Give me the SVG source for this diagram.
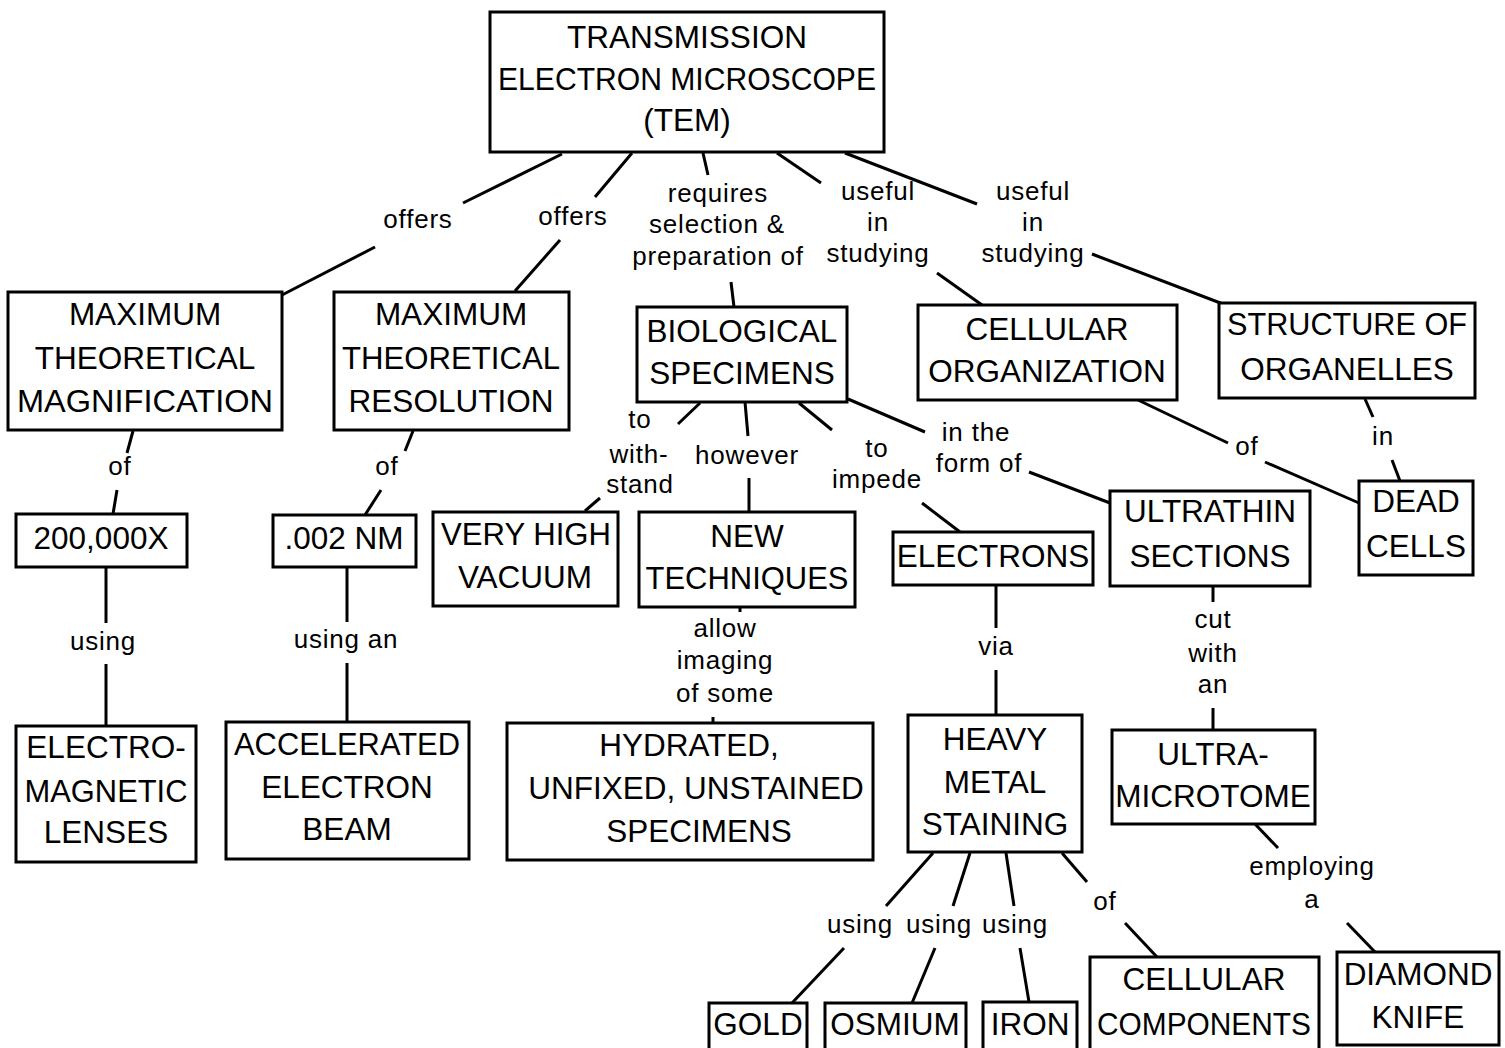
<svg xmlns="http://www.w3.org/2000/svg" width="1505" height="1048" viewBox="0 0 1505 1048">
  <style>
    .box { fill: #fff; stroke: #000; stroke-width: 3; }
    .nt { font-family: "Liberation Sans", Arial, sans-serif; font-size: 31.5px; text-anchor: middle; fill: #000; }
    .lt { font-family: "Liberation Sans", Arial, sans-serif; font-size: 26px; letter-spacing: 0.8px; text-anchor: middle; fill: #000; }
    #connectors line { stroke: #000; stroke-width: 3; stroke-linecap: butt; }
  </style>
  <rect width="1505" height="1048" fill="#fff"/>

  <!-- connectors: each link is two segments broken around its label -->
  <g id="connectors">
    <line x1="562" y1="154" x2="463" y2="203"/><line x1="375" y1="247" x2="282" y2="295"/>
    <line x1="632" y1="153" x2="595" y2="197"/><line x1="560" y1="240" x2="515" y2="291"/>
    <line x1="703" y1="153" x2="708" y2="175"/><line x1="731" y1="282" x2="734" y2="307"/>
    <line x1="777" y1="153" x2="821" y2="183"/><line x1="937" y1="273" x2="982" y2="305"/>
    <line x1="845" y1="153" x2="977" y2="204"/><line x1="1092" y1="254" x2="1223" y2="304"/>
    <line x1="133" y1="431" x2="127" y2="453"/><line x1="117" y1="490" x2="113" y2="514"/>
    <line x1="413" y1="431" x2="405" y2="451"/><line x1="381" y1="490" x2="365" y2="515"/>
    <line x1="106" y1="567" x2="106" y2="623"/><line x1="106" y1="664" x2="106" y2="726"/>
    <line x1="347" y1="567" x2="347" y2="622"/><line x1="347" y1="663" x2="347" y2="722"/>
    <line x1="700" y1="403" x2="678" y2="424"/><line x1="600" y1="498" x2="585" y2="511"/>
    <line x1="745" y1="402" x2="748" y2="436"/><line x1="749" y1="478" x2="749" y2="512"/>
    <line x1="799" y1="403" x2="832" y2="430"/><line x1="922" y1="503" x2="960" y2="532"/>
    <line x1="848" y1="399" x2="925" y2="432"/><line x1="1029" y1="472" x2="1110" y2="503"/>
    <line x1="1138" y1="400" x2="1228" y2="443"/><line x1="1265" y1="462" x2="1359" y2="503"/>
    <line x1="1365" y1="399" x2="1373" y2="417"/><line x1="1392" y1="460" x2="1400" y2="481"/>
    <line x1="740" y1="607" x2="740" y2="612"/><line x1="713" y1="717" x2="713" y2="723"/>
    <line x1="996" y1="585" x2="996" y2="628"/><line x1="996" y1="670" x2="996" y2="715"/>
    <line x1="1213" y1="586" x2="1213" y2="602"/><line x1="1213" y1="708" x2="1213" y2="730"/>
    <line x1="1255" y1="824" x2="1278" y2="848"/><line x1="1347" y1="923" x2="1375" y2="952"/>
    <line x1="933" y1="853" x2="886" y2="906"/><line x1="844" y1="948" x2="792" y2="1003"/>
    <line x1="970" y1="853" x2="953" y2="906"/><line x1="935" y1="948" x2="912" y2="1003"/>
    <line x1="1006" y1="853" x2="1014" y2="906"/><line x1="1020" y1="948" x2="1029" y2="1002"/>
    <line x1="1062" y1="853" x2="1087" y2="882"/><line x1="1125" y1="923" x2="1157" y2="957"/>
  </g>

  <!-- link labels -->
  <g id="labels" class="lt">
    <text x="418" y="228">offers</text>
    <text x="573" y="225">offers</text>
    <text x="718" y="202">requires</text>
    <text x="717" y="233">selection &amp;</text>
    <text x="718" y="265">preparation of</text>
    <text x="878" y="200">useful</text>
    <text x="878" y="231">in</text>
    <text x="878" y="262">studying</text>
    <text x="1033" y="200">useful</text>
    <text x="1033" y="231">in</text>
    <text x="1033" y="262">studying</text>
    <text x="120" y="475">of</text>
    <text x="387" y="475">of</text>
    <text x="103" y="650">using</text>
    <text x="346" y="648">using an</text>
    <text x="640" y="428">to</text>
    <text x="639" y="463">with-</text>
    <text x="640" y="493">stand</text>
    <text x="747" y="464">however</text>
    <text x="877" y="457">to</text>
    <text x="877" y="488">impede</text>
    <text x="976" y="441">in the</text>
    <text x="979" y="472">form of</text>
    <text x="1247" y="455">of</text>
    <text x="1383" y="445">in</text>
    <text x="725" y="637">allow</text>
    <text x="725" y="669">imaging</text>
    <text x="725" y="702">of some</text>
    <text x="996" y="655">via</text>
    <text x="1213" y="628">cut</text>
    <text x="1213" y="662">with</text>
    <text x="1213" y="693">an</text>
    <text x="1312" y="875">employing</text>
    <text x="1312" y="908">a</text>
    <text x="860" y="933">using</text>
    <text x="939" y="933">using</text>
    <text x="1015" y="933">using</text>
    <text x="1105" y="910">of</text>
  </g>

  <!-- concept nodes -->
  <g id="n-tem"><rect class="box" x="490" y="12" width="394" height="140"/>
    <text class="nt" x="687" y="48">TRANSMISSION</text>
    <text class="nt" x="687" y="90" textLength="378" lengthAdjust="spacingAndGlyphs">ELECTRON MICROSCOPE</text>
    <text class="nt" x="687" y="131">(TEM)</text></g>
  <g id="n-mag"><rect class="box" x="8" y="292" width="274" height="138"/>
    <text class="nt" x="145" y="325">MAXIMUM</text>
    <text class="nt" x="145" y="369">THEORETICAL</text>
    <text class="nt" x="145" y="412" textLength="256" lengthAdjust="spacingAndGlyphs">MAGNIFICATION</text></g>
  <g id="n-res"><rect class="box" x="334" y="292" width="235" height="138"/>
    <text class="nt" x="451" y="325">MAXIMUM</text>
    <text class="nt" x="451" y="369" textLength="218" lengthAdjust="spacingAndGlyphs">THEORETICAL</text>
    <text class="nt" x="451" y="412">RESOLUTION</text></g>
  <g id="n-bio"><rect class="box" x="637" y="307" width="210" height="95"/>
    <text class="nt" x="742" y="342">BIOLOGICAL</text>
    <text class="nt" x="742" y="384">SPECIMENS</text></g>
  <g id="n-cellorg"><rect class="box" x="918" y="305" width="259" height="95"/>
    <text class="nt" x="1047" y="340">CELLULAR</text>
    <text class="nt" x="1047" y="382">ORGANIZATION</text></g>
  <g id="n-struct"><rect class="box" x="1219" y="303" width="256" height="95"/>
    <text class="nt" x="1347" y="335" textLength="240" lengthAdjust="spacingAndGlyphs">STRUCTURE OF</text>
    <text class="nt" x="1347" y="380">ORGANELLES</text></g>
  <g id="n-dead"><rect class="box" x="1359" y="481" width="114" height="94"/>
    <text class="nt" x="1416" y="512">DEAD</text>
    <text class="nt" x="1416" y="557">CELLS</text></g>
  <g id="n-ultrathin"><rect class="box" x="1110" y="491" width="200" height="95"/>
    <text class="nt" x="1210" y="522">ULTRATHIN</text>
    <text class="nt" x="1210" y="567">SECTIONS</text></g>
  <g id="n-electrons"><rect class="box" x="893" y="532" width="200" height="53"/>
    <text class="nt" x="993" y="567">ELECTRONS</text></g>
  <g id="n-200k"><rect class="box" x="16" y="514" width="171" height="53"/>
    <text class="nt" x="101" y="549">200,000X</text></g>
  <g id="n-002nm"><rect class="box" x="273" y="515" width="143" height="52"/>
    <text class="nt" x="344" y="549">.002 NM</text></g>
  <g id="n-vacuum"><rect class="box" x="433" y="512" width="185" height="94"/>
    <text class="nt" x="526" y="545" textLength="170" lengthAdjust="spacingAndGlyphs">VERY HIGH</text>
    <text class="nt" x="525" y="588">VACUUM</text></g>
  <g id="n-newtech"><rect class="box" x="639" y="512" width="216" height="95"/>
    <text class="nt" x="747" y="547">NEW</text>
    <text class="nt" x="747" y="589" textLength="203" lengthAdjust="spacingAndGlyphs">TECHNIQUES</text></g>
  <g id="n-lenses"><rect class="box" x="16" y="726" width="180" height="136"/>
    <text class="nt" x="106" y="758">ELECTRO-</text>
    <text class="nt" x="106" y="802" textLength="163" lengthAdjust="spacingAndGlyphs">MAGNETIC</text>
    <text class="nt" x="106" y="843">LENSES</text></g>
  <g id="n-beam"><rect class="box" x="226" y="722" width="243" height="137"/>
    <text class="nt" x="347" y="755" textLength="226" lengthAdjust="spacingAndGlyphs">ACCELERATED</text>
    <text class="nt" x="347" y="798">ELECTRON</text>
    <text class="nt" x="347" y="840">BEAM</text></g>
  <g id="n-hydrated"><rect class="box" x="507" y="723" width="366" height="137"/>
    <text class="nt" x="689" y="756">HYDRATED,</text>
    <text class="nt" x="696" y="799">UNFIXED, UNSTAINED</text>
    <text class="nt" x="699" y="842">SPECIMENS</text></g>
  <g id="n-heavy"><rect class="box" x="908" y="715" width="174" height="137"/>
    <text class="nt" x="995" y="750">HEAVY</text>
    <text class="nt" x="995" y="793">METAL</text>
    <text class="nt" x="995" y="835">STAINING</text></g>
  <g id="n-microtome"><rect class="box" x="1112" y="730" width="203" height="94"/>
    <text class="nt" x="1213" y="765">ULTRA-</text>
    <text class="nt" x="1213" y="807">MICROTOME</text></g>
  <g id="n-gold"><rect class="box" x="709" y="1003" width="98" height="60"/>
    <text class="nt" x="758" y="1035">GOLD</text></g>
  <g id="n-osmium"><rect class="box" x="825" y="1003" width="141" height="60"/>
    <text class="nt" x="895" y="1035">OSMIUM</text></g>
  <g id="n-iron"><rect class="box" x="983" y="1002" width="94" height="60"/>
    <text class="nt" x="1030" y="1035">IRON</text></g>
  <g id="n-components"><rect class="box" x="1090" y="957" width="229" height="105"/>
    <text class="nt" x="1204" y="990">CELLULAR</text>
    <text class="nt" x="1204" y="1035" textLength="214" lengthAdjust="spacingAndGlyphs">COMPONENTS</text></g>
  <g id="n-knife"><rect class="box" x="1337" y="952" width="162" height="93"/>
    <text class="nt" x="1418" y="985">DIAMOND</text>
    <text class="nt" x="1418" y="1028">KNIFE</text></g>
</svg>
